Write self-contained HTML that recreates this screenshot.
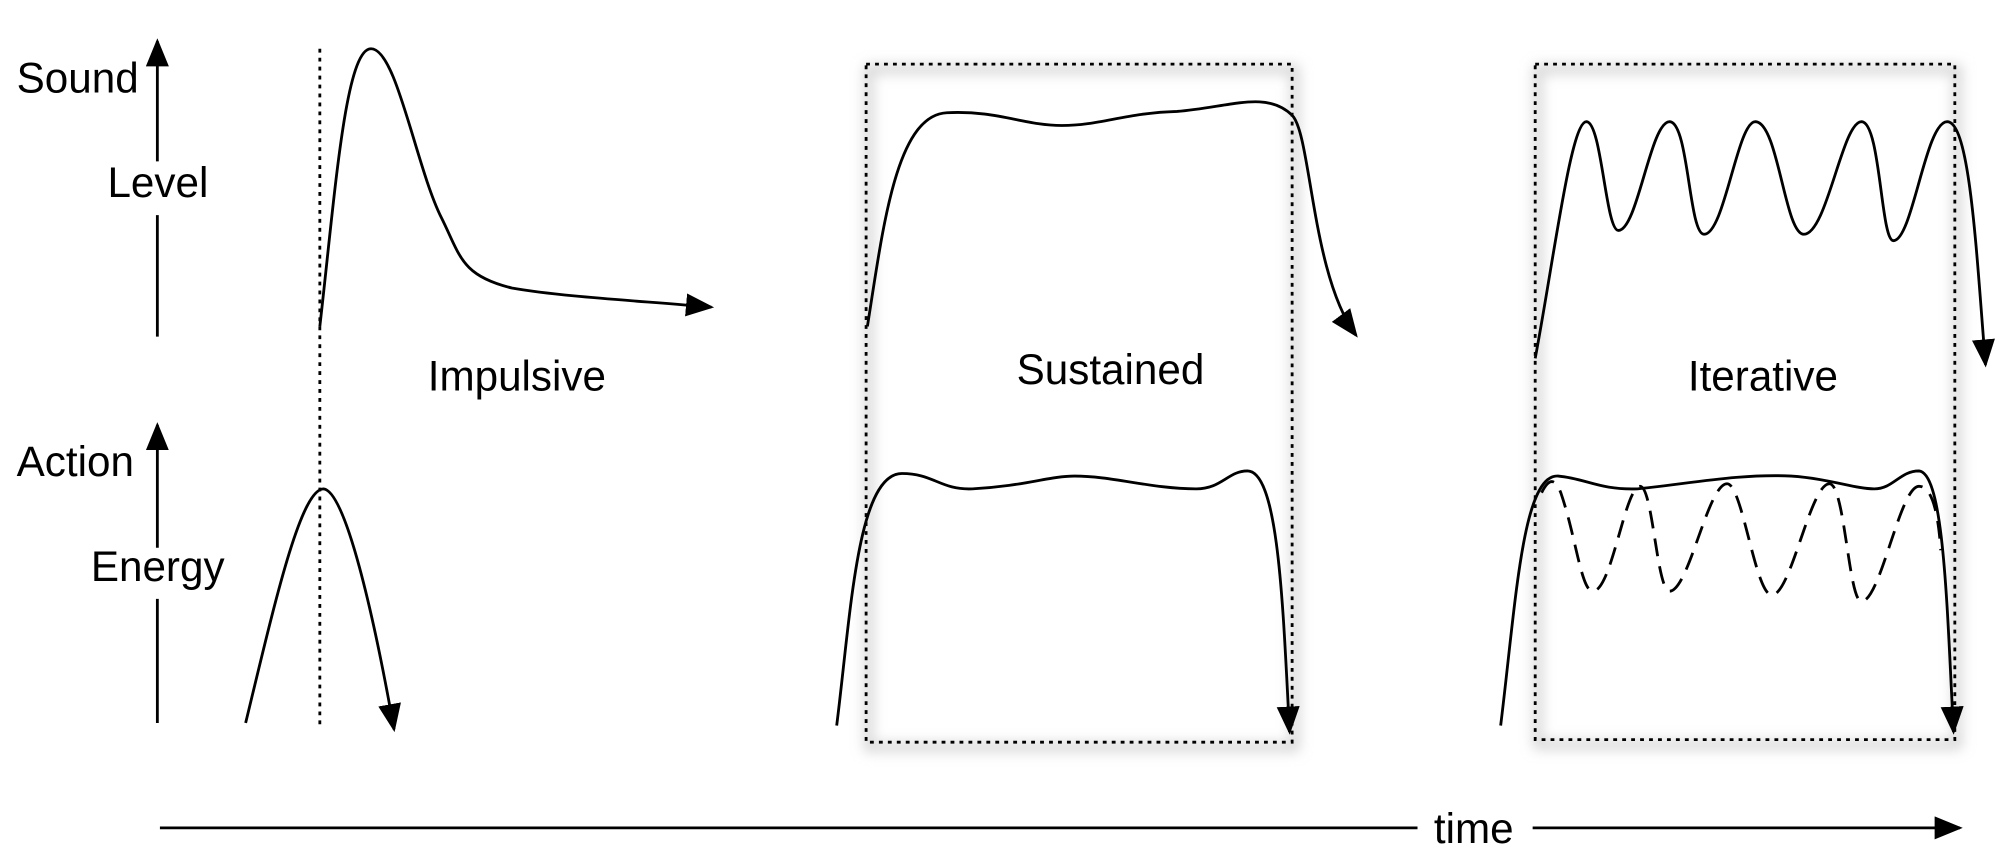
<!DOCTYPE html>
<html><head><meta charset="utf-8"><style>
html,body{margin:0;padding:0;background:#fff;}
svg{display:block;}
text{font-family:"Liberation Sans",sans-serif;font-size:33px;fill:#000;}
</style></head><body>
<svg width="2006" height="860" viewBox="0 0 1568 672" xmlns="http://www.w3.org/2000/svg">
<defs>
<marker id="b" viewBox="0 0 10 10" refX="9" refY="5" markerWidth="22" markerHeight="18" markerUnits="userSpaceOnUse" orient="auto" preserveAspectRatio="none"><path d="M0,0 L10,5 L0,10 z"/></marker>
<filter id="sh" x="-10%" y="-10%" width="120%" height="120%"><feGaussianBlur stdDeviation="5"/></filter>
</defs>
<g fill="none" stroke="#000" stroke-width="2.2">
<rect x="679" y="54" width="333" height="530" stroke="#ccc" stroke-width="6" filter="url(#sh)"/>
<rect x="1202" y="54" width="328" height="528" stroke="#ccc" stroke-width="6" filter="url(#sh)"/>
<rect x="677" y="50" width="333" height="530" fill="none" stroke-dasharray="3,4"/>
<rect x="1200" y="50" width="328" height="528" fill="none" stroke-dasharray="3,4"/>
<path d="M123,263 V168 M123,126 V32" marker-end="url(#b)"/>
<path d="M123,565 V468 M123,428 V332" marker-end="url(#b)"/>
<path d="M125,647 H1108 M1198,647 H1532" marker-end="url(#b)"/>
<path d="M250,38 V568" stroke-dasharray="3,4"/>
<path d="M250,255 C262,150 270,38 290,38 C310,38 325,130 345,170 C360,200 360,215 400,225 C440,232 500,235 556,240" marker-end="url(#b)"/>
<path d="M192,565 C215,470 235,382 253,382 C270,384 292,480 308,570" marker-end="url(#b)"/>
<path d="M678,255 C690,180 700,90 740,88 C780,86 800,98 830,98 C860,98 880,88 920,87 C960,84 990,70 1010,90 C1025,105 1025,215 1060,262" marker-end="url(#b)"/>
<path d="M654,567 C665,480 670,370 705,370 C730,370 735,383 760,382 C800,380 820,372 840,372 C870,372 900,382 935,382 C955,382 960,368 975,368 C1000,368 1003,480 1008,572" marker-end="url(#b)"/>
<path d="M1200,280 C1215,200 1228,95 1240,95 C1252,95 1255,180 1265,180 C1280,180 1290,95 1305,95 C1320,95 1320,183 1332,183 C1348,183 1358,95 1372,95 C1390,95 1395,183 1410,183 C1428,183 1440,95 1455,95 C1470,95 1470,188 1480,188 C1495,188 1505,95 1522,95 C1540,95 1545,200 1552,285" marker-end="url(#b)"/>
<path d="M1173,567 C1185,470 1190,370 1218,372 C1240,374 1250,383 1280,382 C1320,378 1360,370 1400,372 C1430,374 1450,382 1465,382 C1480,382 1485,368 1500,368 C1520,370 1522,480 1527,572" marker-end="url(#b)"/>
<path d="M1205,385 C1210,375 1215,372 1220,385 C1232,420 1236,462 1245,462 C1260,462 1270,380 1282,380 C1292,380 1295,462 1305,462 C1320,462 1335,378 1350,378 C1362,378 1372,465 1385,465 C1400,465 1415,378 1430,378 C1442,378 1445,470 1455,470 C1470,470 1485,380 1500,380 C1510,380 1515,400 1517,430" stroke-dasharray="14,8"/>
</g>
<text x="13" y="72">Sound</text>
<text x="84" y="154">Level</text>
<text x="13" y="372">Action</text>
<text x="71" y="454">Energy</text>
<text x="404" y="305" text-anchor="middle">Impulsive</text>
<text x="868" y="300" text-anchor="middle">Sustained</text>
<text x="1378" y="305" text-anchor="middle">Iterative</text>
<text x="1152" y="659" text-anchor="middle">time</text>
</svg>
</body></html>
